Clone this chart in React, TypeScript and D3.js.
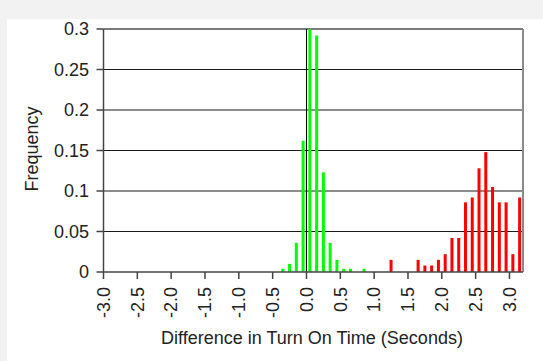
import { useMemo } from 'react';
import * as d3 from 'd3';

// bin lower edges (seconds, 0.1 wide) and their frequencies
const greenBins = [-0.4, -0.3, -0.2, -0.1, 0.0, 0.1, 0.2, 0.3, 0.4, 0.5, 0.6, 0.8];
const greenFreq = [0.004, 0.010, 0.036, 0.162, 0.300, 0.292, 0.123, 0.036, 0.015, 0.004, 0.004, 0.004];

const redBins = [1.2, 1.6, 1.7, 1.8, 1.9, 2.0, 2.1, 2.2, 2.3, 2.4, 2.5, 2.6, 2.7, 2.8, 2.9, 3.0, 3.1];
const redFreq = [0.015, 0.015, 0.008, 0.008, 0.015, 0.022, 0.042, 0.042, 0.086, 0.092, 0.128, 0.148, 0.105, 0.086, 0.086, 0.022, 0.092];

const xTicks = [-3.0, -2.5, -2.0, -1.5, -1.0, -0.5, 0.0, 0.5, 1.0, 1.5, 2.0, 2.5, 3.0];
const yTicks = [0, 0.05, 0.1, 0.15, 0.2, 0.25, 0.3];

const BIN = 0.1;
const width = 543;
const height = 361;
const plot = { left: 103.5, right: 523, top: 29, bottom: 272 };
const font = '"Liberation Sans", Arial, sans-serif';

export default function App() {
  const x = useMemo(() => d3.scaleLinear().domain([-3.0, 3.2]).range([plot.left, plot.right]), []);
  const y = useMemo(() => d3.scaleLinear().domain([0, 0.3]).range([plot.bottom, plot.top]), []);

  const barW = 3;
  const green = greenBins.map((b, i) => ({ b, v: greenFreq[i] }));
  const red = redBins.map((b, i) => ({ b, v: redFreq[i] }));

  return (
    <div style={{ position: 'fixed', left: 0, top: 0 }}>
      <svg width={width} height={height} style={{ display: 'block' }}>
        <rect x={0} y={0} width={width} height={height} fill="#f2f2f2" />
        <rect x={7} y={19} width={width - 7} height={height - 19} fill="#ffffff" />

        {/* gridlines */}
        {yTicks.filter(t => t > 0 && t < 0.3).map(t => (
          <line key={t} x1={plot.left} x2={plot.right} y1={y(t)} y2={y(t)} stroke="#1a1a1a" strokeWidth={1.2} />
        ))}

        {/* plot border */}
        <line x1={plot.left} x2={plot.right} y1={plot.top} y2={plot.top} stroke="#7a7a7a" strokeWidth={2} />
        <line x1={plot.right} x2={plot.right} y1={plot.top} y2={plot.bottom} stroke="#8a8a8a" strokeWidth={2} />

        {/* zero line */}
        <line x1={x(0)} x2={x(0)} y1={plot.top} y2={plot.bottom} stroke="#000" strokeWidth={1} />

        {/* bars */}
        {green.map(d => (
          <rect key={'g' + d.b} x={x(d.b + BIN / 2) - barW / 2} y={y(d.v)} width={barW} height={y(0) - y(d.v)} fill="#00ff00" />
        ))}
        {red.map(d => (
          <rect key={'r' + d.b} x={x(d.b + BIN / 2) - barW / 2} y={y(d.v)} width={barW} height={y(0) - y(d.v)} fill="#ff0000" />
        ))}

        {/* axes */}
        <line x1={plot.left} x2={plot.left} y1={plot.top} y2={plot.bottom} stroke="#444" strokeWidth={1.5} />
        <line x1={plot.left} x2={plot.right} y1={plot.bottom} y2={plot.bottom} stroke="#444" strokeWidth={1.5} />

        {yTicks.map(t => (
          <g key={'y' + t}>
            <line x1={plot.left - 7} x2={plot.left} y1={y(t)} y2={y(t)} stroke="#444" strokeWidth={1.5} />
            <text x={89} y={y(t)} dy="0.35em" textAnchor="end" fontFamily={font} fontSize={18} fill="#222">
              {String(t)}
            </text>
          </g>
        ))}

        {xTicks.map(t => (
          <g key={'x' + t}>
            <line x1={x(t)} x2={x(t)} y1={plot.bottom} y2={plot.bottom + 7} stroke="#444" strokeWidth={1.5} />
            <text
              transform={`translate(${x(t)},${plot.bottom + 15}) rotate(-90)`}
              dy="0.35em"
              textAnchor="end"
              fontFamily={font}
              fontSize={18}
              fill="#222"
            >
              {t.toFixed(1)}
            </text>
          </g>
        ))}

        <text x={312} y={344} textAnchor="middle" fontFamily={font} fontSize={18} fill="#222">
          Difference in Turn On Time (Seconds)
        </text>
        <text transform="translate(38,149) rotate(-90)" textAnchor="middle" fontFamily={font} fontSize={18} fill="#222">
          Frequency
        </text>
      </svg>
    </div>
  );
}
